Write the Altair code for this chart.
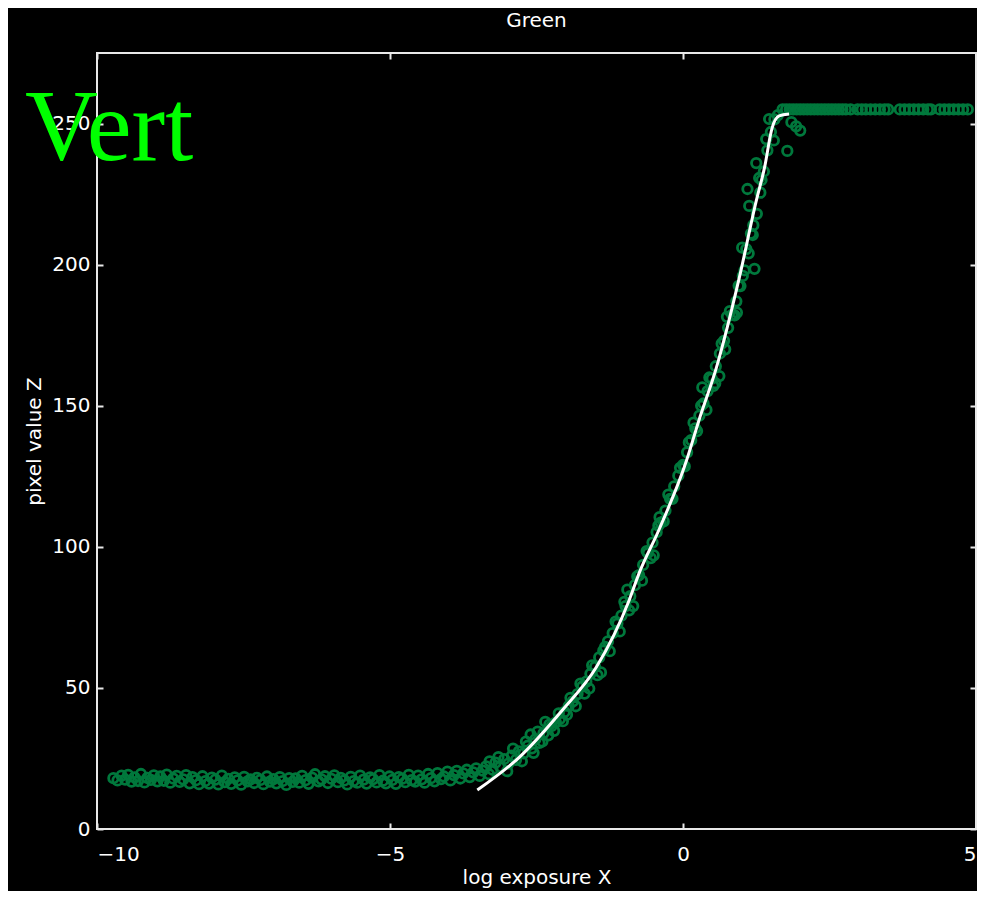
import altair as alt
import pandas as pd

# ---- data ----
band_x = [-9.72, -9.65, -9.58, -9.52, -9.47, -9.41, -9.36, -9.30, -9.25, -9.19, -9.14, -9.08, -9.03, -8.97,
          -8.92, -8.86, -8.81, -8.75, -8.70, -8.64, -8.59, -8.53, -8.48, -8.42, -8.37, -8.31, -8.26, -8.20,
          -8.15, -8.09, -8.04, -7.98, -7.93, -7.87, -7.82, -7.76, -7.71, -7.65, -7.60, -7.54, -7.49, -7.43,
          -7.38, -7.32, -7.27, -7.21, -7.16, -7.10, -7.05, -6.99, -6.94, -6.88, -6.83, -6.77, -6.72, -6.66,
          -6.61, -6.55, -6.50, -6.44, -6.39, -6.33, -6.28, -6.22, -6.17, -6.11, -6.06, -6.00, -5.95, -5.89,
          -5.84, -5.78, -5.73, -5.67, -5.62, -5.56, -5.51, -5.45, -5.40, -5.34, -5.29, -5.23, -5.18, -5.12,
          -5.07, -5.01, -4.96, -4.90, -4.85, -4.79, -4.74, -4.68, -4.63, -4.57, -4.52, -4.46, -4.41, -4.35,
          -4.30, -4.24, -4.19, -4.13, -4.08, -4.02, -3.97, -3.91, -3.86, -3.80, -3.75, -3.69, -3.64, -3.58,
          -3.53, -3.47, -3.42, -3.36, -3.31]
band_y = [18.0, 17.2, 18.9, 17.5, 19.2, 16.8, 18.3, 17.0, 19.5, 16.5, 18.1, 17.4, 19.0, 16.9,
          18.6, 17.1, 19.3, 16.4, 17.9, 18.8, 16.7, 17.6, 19.1, 16.2, 18.4, 17.3, 15.9, 18.7,
          17.0, 16.1, 18.2, 17.5, 15.8, 18.9, 16.6, 17.8, 16.0, 18.3, 17.2, 15.7, 18.5, 16.9,
          17.6, 16.3, 18.1, 17.4, 15.9, 18.6, 16.8, 17.7, 16.2, 18.4, 17.0, 15.6, 18.0, 16.7,
          17.9, 16.4, 18.8, 17.3, 16.0, 18.2, 19.4, 16.9, 17.6, 18.7, 16.3, 17.8, 19.0, 16.6,
          18.1, 17.2, 15.8, 18.5, 17.0, 16.4, 18.9, 17.5, 16.1, 18.3, 17.7, 16.5, 19.1, 17.1,
          16.2, 18.6, 17.4, 16.0, 18.4, 17.8, 16.6, 19.2, 17.3, 16.8, 18.9, 17.6, 16.4, 19.5,
          18.0, 16.9, 19.8, 17.7, 18.6, 20.3, 17.2, 19.1, 20.6, 17.9, 19.7, 21.0, 18.4, 20.1,
          21.5, 18.8, 20.7, 22.2, 19.4]

rise_x = [-3.25, -3.20, -3.12, -3.05, -2.98, -2.92, -2.85, -2.80, -2.72, -2.65, -2.58, -2.52, -2.45, -2.38,
          -2.30, -2.24, -2.17, -2.10, -2.02, -1.95, -1.88, -1.80, -1.72, -1.65, -1.58, -1.50, -1.43, -1.36,
          -1.28, -1.20, -1.12, -1.05, -0.98, -0.90, -0.82, -0.75, -0.68, -0.60, -0.52, -0.45, -0.38, -0.30,
          -0.22, -0.15, -0.08, 0.00, 0.07, 0.14, 0.21, 0.28, 0.35, 0.42, 0.49, 0.56, 0.63, 0.70, 0.77, 0.84,
          0.91, 0.98, 1.05, 1.12, 1.19, 1.26, 1.32, 1.38, 1.44, 1.50, 1.56, 1.62,
          -2.60, -2.35, -2.05, -1.60, -1.40, -0.95, -0.85, -0.50, -0.40, 0.18, 0.33, 0.40, 0.55, 0.62,
          0.75, 0.92, 1.01, 1.08, 1.10, 1.13, 1.22, 1.25, 1.30, 1.47, 1.55, 1.78, 1.85, 1.93, 2.00,
          -3.30, -3.15, -3.00, -2.90, -2.75, -2.68, -2.55, -2.48, -2.40, -2.28, -2.20, -2.12, -1.98, -1.92,
          -1.83, -1.75, -1.68, -1.55, -1.46, -1.33, -1.25, -1.15, -1.08, -1.00, -0.92, -0.78, -0.70, -0.62,
          -0.55, -0.42, -0.33, -0.25, -0.18, -0.05, 0.03, 0.10, 0.24, 0.31, 0.45, 0.52, 0.66, 0.72, 0.80,
          0.88, 0.95, 1.02, 1.16, 1.20, 1.34, 1.42]
rise_y = [21.0, 23.5, 22.0, 24.8, 23.2, 26.0, 24.5, 27.5, 26.8, 29.5, 28.6, 31.8, 30.5, 34.0,
          33.2, 36.5, 37.8, 39.0, 41.5, 43.6, 45.2, 47.8, 50.5, 52.2, 55.0, 57.5, 60.8, 63.2,
          66.5, 69.4, 72.8, 75.6, 79.0, 82.5, 86.4, 90.0, 93.6, 97.8, 101.5, 105.2, 108.6, 112.8,
          117.0, 121.4, 125.2, 129.0, 133.5, 137.8, 142.0, 146.5, 150.8, 155.2, 159.6, 164.0, 168.5, 173.0,
          177.6, 182.2, 187.0, 192.4, 198.0, 204.0, 210.5, 218.0, 225.5, 233.0, 240.5, 247.0, 251.5, 253.0,
          33.5, 38.0, 38.2, 49.8, 55.5, 84.8, 79.0, 97.0, 110.5, 144.0, 156.5, 148.5, 158.0, 160.5,
          181.5, 183.0, 206.0, 205.5, 226.8, 220.8, 198.5, 236.0, 230.7, 251.6, 244.0, 240.3, 250.5, 249.0, 247.5,
          24.0, 25.5, 20.5, 28.5, 24.0, 31.0, 27.0, 34.5, 31.0, 37.0, 34.8, 41.0, 40.5, 46.5,
          43.5, 51.5, 48.0, 58.0, 54.5, 64.5, 63.0, 73.5, 70.0, 80.5, 77.5, 89.5, 88.0, 98.5,
          96.0, 107.5, 109.0, 118.5, 117.0, 128.0, 128.5, 137.0, 141.0, 150.0, 160.0, 157.0, 172.0, 170.0, 183.5,
          182.0, 192.5, 196.0, 211.0, 214.0, 230.0, 244.5]

sat_x = [1.70, 1.76, 1.82, 1.88, 1.94, 2.00, 2.06, 2.12, 2.18, 2.24, 2.30, 2.36, 2.42, 2.48, 2.54, 2.60,
         2.66, 2.72, 2.78, 2.86, 2.98, 3.05, 3.12, 3.20, 3.28, 3.36, 3.44, 3.50, 3.70, 3.78, 3.86, 3.94,
         4.02, 4.10, 4.18, 4.23, 4.38, 4.46, 4.54, 4.62, 4.70, 4.78, 4.86]
sat_y = [255] * len(sat_x)

curve_x = [-3.51, -2.79, -2.06, -1.48, -0.92, -0.75, -0.40, 0.06, 0.27, 0.57, 0.96, 1.25, 1.39, 1.52, 1.64, 1.81]
curve_y = [13.8, 25.5, 42.1, 57.3, 81.0, 90.6, 106.5, 130.6, 144.7, 163.5, 195.3, 222.6, 234.3, 248.4, 252.7, 253.4]

x_ticks = [-10, -5, 0, 5]
y_ticks = [0, 50, 100, 150, 200, 250]

chart_title = "Green"
x_title = "log exposure X"
y_title = "pixel value Z"
overlay_text = "Vert"

# ---- tables ----
pts = pd.DataFrame({"x": band_x + rise_x + sat_x, "y": band_y + rise_y + sat_y})
curve = pd.DataFrame({"x": curve_x, "y": curve_y})

FG = "#e8e8e8"
FONT = "DejaVu Sans"
xs = alt.Scale(domain=[-10, 5], nice=False, zero=False)
ys = alt.Scale(domain=[0, 275], nice=False, zero=False)

common = dict(grid=False, domain=False, tickSize=6, tickWidth=2, tickColor=FG,
              labelColor="white", labelFont=FONT, labelFontSize=20, titleColor="white",
              titleFont=FONT, titleFontSize=20, titleFontWeight="normal", offset=-6)


def ax(vals, **kw):
    d = dict(common)
    d["values"] = vals
    d.update(kw)
    return alt.Axis(**d)


points = alt.Chart(pts).mark_point(shape="circle", filled=False, size=90, strokeWidth=2.8,
                                   color="#00783c", opacity=1).encode(
    x=alt.X("x:Q", scale=xs, axis=ax(x_ticks, orient="bottom", title=x_title, labelPadding=15, titlePadding=3)),
    y=alt.Y("y:Q", scale=ys, axis=ax(y_ticks, orient="left", title=y_title, labelPadding=7, titlePadding=7)),
)

line = alt.Chart(curve).mark_line(color="white", strokeWidth=3, interpolate="monotone").encode(
    x=alt.X("x:Q", scale=xs, axis=ax(x_ticks, orient="top", labels=False, title=None)),
    y=alt.Y("y:Q", scale=ys, axis=ax(y_ticks, orient="right", labels=False, title=None)),
)

label = alt.Chart(pd.DataFrame({"t": [overlay_text]})).mark_text(
    font="Liberation Serif", fontSize=101, color="#00ff00", align="left", baseline="alphabetic"
).encode(text="t:N", x=alt.value(-72), y=alt.value(107))

chart = alt.layer(points, line, label).resolve_axis(x="independent", y="independent").properties(
    width=879, height=776,
    title=alt.TitleParams(chart_title, color="white", font=FONT, fontSize=20, fontWeight="normal",
                          offset=5, baseline="alphabetic"),
    autosize=alt.AutoSizeParams(type="none"),
    padding={"left": 89, "top": 45, "right": 1, "bottom": 62},
    background="black",
).configure_view(stroke=FG, strokeWidth=2)

chart.save("out.html", embed_options={"renderer": "svg", "actions": False})
